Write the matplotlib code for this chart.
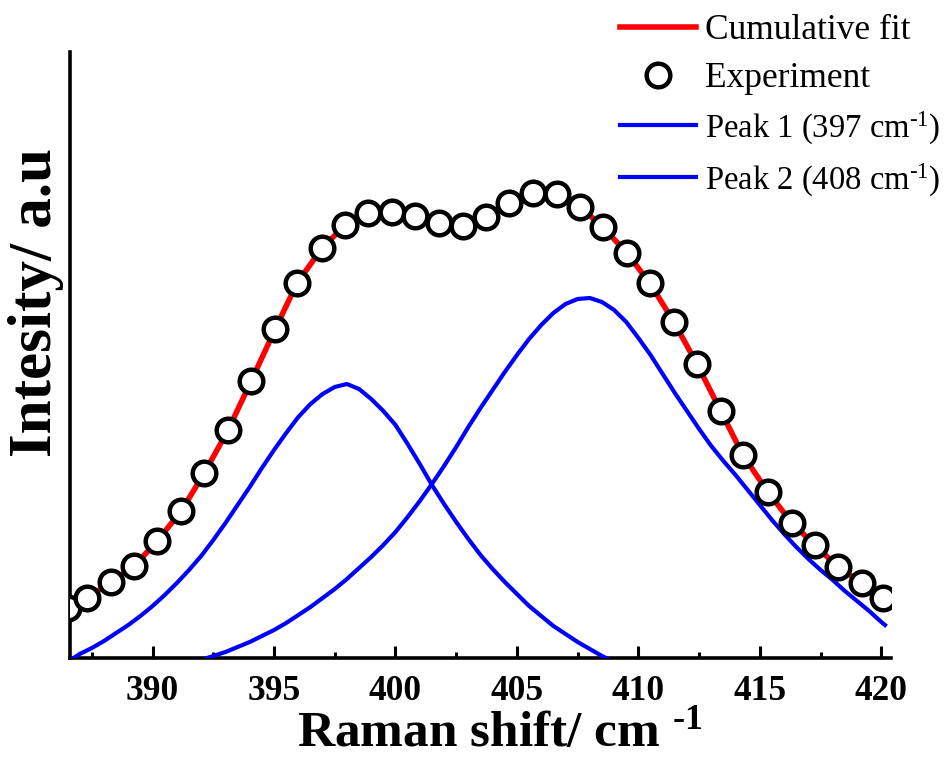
import matplotlib
matplotlib.use("Agg")
import matplotlib.pyplot as plt
from matplotlib.ticker import MultipleLocator, NullLocator

plt.rcParams['font.family'] = 'serif'
plt.rcParams['font.serif'] = ['Liberation Serif', 'DejaVu Serif']
plt.rcParams['mathtext.fontset'] = 'custom'
plt.rcParams['mathtext.rm'] = 'Liberation Serif'
plt.rcParams['mathtext.it'] = 'Liberation Serif:italic'
plt.rcParams['mathtext.bf'] = 'Liberation Serif:bold'

HY = '\u2010'  # plain hyphen, mathtext would turn "-" into a long minus

# experiment points, intensity in a.u.
exp_shift = [386.53, 387.31, 388.30, 389.25, 390.19, 391.18, 392.13, 393.11, 394.06,
             395.05, 395.95, 396.98, 397.93, 398.87, 399.86, 400.80, 401.79, 402.78,
             403.72, 404.67, 405.66, 406.65, 407.59, 408.54, 409.52, 410.47, 411.46,
             412.41, 413.39, 414.30, 415.33, 416.32, 417.26, 418.21, 419.19, 420.06]
exp_int = [50, 60, 76, 92, 117, 147, 185, 228, 277,
           329, 375, 410, 433, 445, 446, 442, 435, 432,
           441, 455, 465, 464, 451, 431, 405, 375, 336,
           294, 247, 203, 166, 135, 113, 91, 75, 60]

# fitted components, read every 0.5 cm-1
p1_shift = [386.75, 387, 387.5, 388, 388.5, 389, 389.5, 390, 390.5, 391, 391.5,
            392, 392.5, 393, 393.5, 394, 394.5, 395, 395.5, 396, 396.5, 397,
            397.5, 398, 398.5, 399, 399.5, 400, 400.5, 401, 401.5, 402, 402.5,
            403, 403.5, 404, 404.5, 405, 405.5, 406, 406.5, 407, 407.5, 408,
            408.5, 409]
p1_int = [0, 4, 10, 17, 25, 33, 42, 52, 63, 75, 88,
          102, 118, 135, 153, 171, 190, 208, 225, 241, 254, 264,
          271, 274, 269, 259, 247, 233, 214, 194, 173, 154, 136,
          119, 103, 89, 76, 64, 52, 42, 32, 24, 16, 9,
          2, -4]

p2_shift = [392.24, 392.5, 393, 393.5, 394, 394.5, 395, 395.5, 396, 396.5, 397,
            397.5, 398, 398.5, 399, 399.5, 400, 400.5, 401, 401.5, 402, 402.5,
            403, 403.5, 404, 404.5, 405, 405.5, 406, 406.5, 407, 407.5, 408,
            408.5, 409, 409.5, 410, 410.5, 411, 411.5, 412, 412.5, 413, 413.5,
            414, 414.5, 415, 415.5, 416, 416.5, 417, 417.5, 418, 418.5, 419,
            419.5, 420, 420.15]
p2_int = [0, 2, 6, 11, 16, 22, 28, 35, 43, 51, 60,
          69, 79, 90, 101, 113, 126, 141, 157, 174, 192, 211,
          231, 250, 268, 286, 303, 319, 333, 345, 354, 359, 360,
          356, 348, 336, 320, 303, 284, 265, 247, 229, 212, 197,
          183, 168, 153, 138, 124, 111, 99, 88, 78, 67, 57,
          47, 36, 33]

fig = plt.figure(figsize=(9.47, 7.6), dpi=100)
ax = fig.add_axes([0.0739, 0.1342, 0.867, 0.7974])

ax.plot(exp_shift, exp_int, color='#ff0000', lw=4, label='Cumulative fit', zorder=2)
ax.plot(exp_shift, exp_int, ls='none', marker='o', ms=17, mew=3.2, mfc='white',
        mec='black', label='Experiment', zorder=4)
ax.plot(p1_shift, p1_int, color='#0000ff', lw=3, zorder=3,
        label='Peak 1 (397 cm$^{' + HY + '1}$)')
ax.plot(p2_shift, p2_int, color='#0000ff', lw=3, zorder=3,
        label='Peak 2 (408 cm$^{' + HY + '1}$)')

ax.set_xlim(386.6, 420.4)
ax.set_ylim(0, 606)

for s in ['top', 'right']:
    ax.spines[s].set_visible(False)
for s in ['left', 'bottom']:
    ax.spines[s].set_linewidth(2.6)

ax.xaxis.set_major_locator(MultipleLocator(5))
ax.xaxis.set_minor_locator(MultipleLocator(2.5))
ax.yaxis.set_major_locator(NullLocator())
ax.tick_params(axis='x', which='major', direction='in', length=8.5, width=2.2,
               pad=12, labelsize=25.5)
ax.tick_params(axis='x', which='minor', direction='in', length=4.5, width=2.2)
for t in ax.get_xticklabels():
    t.set_fontweight('bold')

ax.set_xlabel('Raman shift/ cm $^{\\mathbf{' + HY + '1}}$', fontsize=37,
              fontweight='bold')
ax.xaxis.set_label_coords(0.524, -0.088)
ax.set_ylabel('Intesity/ a.u', fontsize=44, fontweight='bold')
ax.yaxis.set_label_coords(-0.007, 0.587)

leg = fig.legend(loc='upper right', bbox_to_anchor=(0.997, 0.986), frameon=False,
                 fontsize=25.5, handlelength=2.15, handletextpad=0.25,
                 labelspacing=0.42, borderpad=0.1, borderaxespad=0)
for t in leg.get_texts()[2:]:
    t.set_fontsize(23.5)

fig.savefig('out.png', dpi=100)
